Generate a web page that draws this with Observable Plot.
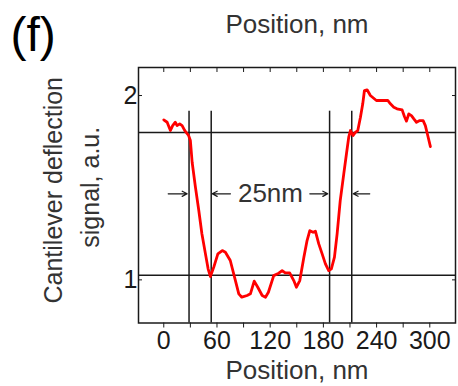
<!DOCTYPE html>
<html>
<head>
<meta charset="utf-8">
<script src="https://cdn.jsdelivr.net/npm/d3@7"></script>
<script src="https://cdn.jsdelivr.net/npm/@observablehq/plot@0.6"></script>
<style>
  html, body { margin: 0; padding: 0; background: #fff; }
</style>
</head>
<body>
<div id="chart"></div>
<script>
// Cantilever deflection profile across the trench
const position = [0, 3.8, 7.5, 10, 13, 15, 18, 20.7, 23.7, 28, 30, 32, 35.7, 39.5, 43, 47, 50, 52.6, 56.4, 61,
  66, 69.5, 75, 80.8, 84.6, 88, 94, 97.7, 102, 106, 111, 114.7, 118, 124, 129.7, 133.5, 137, 142, 146.6, 149.6,
  153.4, 158, 161.6, 164.7, 168.4, 171, 174.8, 178.6, 182.3, 186, 189, 192.5, 195.5, 199, 203, 206, 208.6, 210.5, 213.5, 216,
  218.8, 221.8, 224.4, 226.3, 229.3, 233, 239.8, 246.2, 252.6, 255.6, 259.4, 263, 268.8, 271.4, 273.7, 276.3, 279.3, 282, 285, 288.7,
  292.5, 295, 297.7, 300.7];
const signal = [1.868, 1.855, 1.81, 1.837, 1.855, 1.837, 1.846, 1.837, 1.81, 1.783, 1.756, 1.638, 1.503, 1.376, 1.25, 1.141, 1.06, 1.018, 1.069, 1.141,
  1.159, 1.15, 1.105, 0.996, 0.924, 0.906, 0.915, 0.924, 0.993, 0.96, 0.915, 0.906, 0.933, 1.023, 1.036, 1.05, 1.038, 1.038, 0.996, 0.96,
  0.996, 1.123, 1.213, 1.267, 1.258, 1.264, 1.195, 1.141, 1.087, 1.05, 1.06, 1.123, 1.249, 1.43, 1.575, 1.683, 1.774, 1.81, 1.783, 1.80,
  1.81, 1.882, 1.955, 2.027, 2.031, 2.0, 1.973, 1.973, 1.973, 1.955, 1.937, 1.928, 1.922, 1.886, 1.861, 1.90, 1.891, 1.873, 1.855, 1.864,
  1.864, 1.837, 1.783, 1.723];

// Reference levels (top and bottom plateaus) and the transition edges
const levels = [1.80, 1.025];
const edges = [28.5, 53.5, 187, 212];
const edgeTop = 1.915;

// Width markers: pairs of arrows pointing at the edges
const arrowFrom = [5, 75.2, 164.7, 232.3];
const arrowTo = [26.4, 54.6, 185, 213.6];
const arrowLevel = 1.467;
const widthLabel = "25nm";
const widthLabelX = 120.3;

// Axes
const xDomain = [-28.5, 329];
const yDomain = [0.766, 2.152];
const xTicks = [0, 30, 60, 90, 120, 150, 180, 210, 240, 270, 300];
const yTicks = [1, 2];
const xTitle = "Position, nm";
const yTitle = ["Cantilever deflection", "signal, a.u."];
const panelTag = "(f)";

const profile = position.map((p, i) => ({position: p, signal: signal[i]}));
const arrows = arrowFrom.map((a, i) => ({x1: a, x2: arrowTo[i], y: arrowLevel}));

const ink = "#1a1a1a";

const chart = Plot.plot({
  width: 458,
  height: 386,
  marginLeft: 138,
  marginRight: 3,
  marginTop: 67,
  marginBottom: 63.5,
  style: {fontFamily: "'Liberation Sans', Arial, sans-serif", background: "#fff", color: ink},
  x: {domain: xDomain},
  y: {domain: yDomain},
  marks: [
    Plot.ruleY(levels, {stroke: ink, strokeWidth: 1.5}),
    Plot.ruleX(edges, {y1: edgeTop, y2: yDomain[0], stroke: ink, strokeWidth: 1.5}),
    Plot.line(profile, {x: "position", y: "signal", stroke: "#ff0000", strokeWidth: 2.8, strokeLinejoin: "round"}),
    Plot.arrow(arrows, {x1: "x1", x2: "x2", y1: "y", y2: "y", stroke: ink, strokeWidth: 1.2, headLength: 7, headAngle: 55}),
    Plot.text([widthLabel], {x: widthLabelX, y: arrowLevel, text: d => d, fontSize: 26, fill: "#333", lineAnchor: "middle"}),
    Plot.frame({stroke: ink, strokeWidth: 1.5}),
    // bottom axis: ticks every 30 nm, labels every 60 nm
    Plot.axisX(xTicks, {anchor: "bottom", tickSize: 5, tickPadding: 3, fontSize: 25, label: null,
      tickFormat: d => d % 60 === 0 ? String(d) : ""}),
    // mirrored inward ticks on the top edge
    Plot.axisX(xTicks, {anchor: "top", tickSize: 4, dy: 4, label: null, tickFormat: () => ""}),
    // left axis labels and inward ticks
    Plot.axisY(yTicks, {anchor: "left", tickSize: 0, tickPadding: 1, fontSize: 25, label: null, tickFormat: d => String(d)}),
    Plot.axisY(yTicks, {anchor: "left", tickSize: 4, dx: 4, label: null, tickFormat: () => ""}),
    Plot.axisY(yTicks, {anchor: "right", tickSize: 4, dx: -4, label: null, tickFormat: () => ""}),
    // titles
    Plot.text([xTitle], {frameAnchor: "top", dy: -35, lineAnchor: "bottom", text: d => d, fontSize: 26, fill: "#333"}),
    Plot.text([xTitle], {frameAnchor: "bottom", dy: 55.5, lineAnchor: "bottom", text: d => d, fontSize: 26, fill: "#333"}),
    Plot.text([yTitle[0]], {frameAnchor: "left", dx: -85, dy: -5, rotate: -90, textAnchor: "middle", lineAnchor: "middle", text: d => d, fontSize: 25, fill: "#333"}),
    Plot.text([yTitle[1]], {frameAnchor: "left", dx: -48, dy: -8, rotate: -90, textAnchor: "middle", lineAnchor: "middle", text: d => d, fontSize: 25, fill: "#333"}),
    Plot.text([panelTag], {frameAnchor: "top-left", dx: -128, dy: -17, lineAnchor: "bottom", textAnchor: "start", text: d => d, fontSize: 48, fill: "#000"})
  ]
});

document.getElementById("chart").appendChild(chart);
</script>
</body>
</html>
